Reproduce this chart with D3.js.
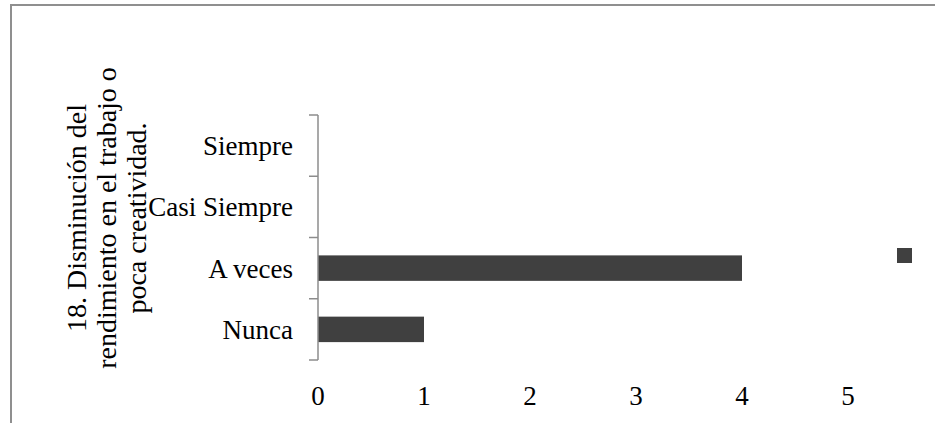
<!DOCTYPE html>
<html>
<head>
<meta charset="utf-8">
<script src="https://cdn.jsdelivr.net/npm/d3@7/dist/d3.min.js"></script>
<style>
  html, body { margin: 0; padding: 0; background: #fff; }
  svg { display: block; }
  text { font-family: "Liberation Serif", "DejaVu Serif", serif; fill: #000; }
</style>
</head>
<body>
<svg id="chart" width="935" height="423"></svg>
<script>
const categories = ["Siempre", "Casi Siempre", "A veces", "Nunca"];
const values = [0, 0, 4, 1];
const xTicks = [0, 1, 2, 3, 4, 5];
const titleLines = ["18. Disminución del", "rendimiento en el trabajo o", "poca creatividad."];
const seriesName = "";

const svg = d3.select("#chart");
const barColor = "#404040";
const axisColor = "#8c8c8c";

// outer border
svg.append("rect")
  .attr("x", 11).attr("y", 5)
  .attr("width", 960).attr("height", 460)
  .attr("fill", "none")
  .attr("stroke", "#8f8f8f")
  .attr("stroke-width", 2);

const x = d3.scaleLinear().domain([0, 5]).range([318, 848]);
const y = d3.scaleBand().domain(categories).range([115, 360])
  .paddingInner(0.584).paddingOuter(0.292);
const step = y.step();

// bars
svg.append("g").selectAll("rect")
  .data(categories.map((c, i) => ({ c, v: values[i] })))
  .join("rect")
  .attr("x", x(0))
  .attr("y", d => y(d.c))
  .attr("width", d => x(d.v) - x(0))
  .attr("height", y.bandwidth())
  .attr("fill", barColor);

// y axis line and boundary ticks
const yTop = 115, yBottom = 360;
svg.append("line")
  .attr("x1", x(0)).attr("x2", x(0))
  .attr("y1", yTop).attr("y2", yBottom)
  .attr("stroke", axisColor).attr("stroke-width", 1.5);
const bounds = d3.range(categories.length + 1).map(i => yTop + i * step);
svg.append("g").selectAll("line")
  .data(bounds)
  .join("line")
  .attr("x1", x(0) - 9).attr("x2", x(0))
  .attr("y1", d => d).attr("y2", d => d)
  .attr("stroke", axisColor).attr("stroke-width", 1.5);

// category labels
svg.append("g").selectAll("text")
  .data(categories)
  .join("text")
  .attr("x", x(0) - 25)
  .attr("y", d => y(d) + y.bandwidth() / 2)
  .attr("dy", "0.35em")
  .attr("text-anchor", "end")
  .attr("font-size", 27)
  .text(d => d);

// x tick labels
svg.append("g").selectAll("text")
  .data(xTicks)
  .join("text")
  .attr("x", d => x(d))
  .attr("y", 405)
  .attr("text-anchor", "middle")
  .attr("font-size", 27)
  .text(d => d);

// rotated axis title
const tg = svg.append("g").attr("transform", "translate(0,218) rotate(-90)");
tg.selectAll("text")
  .data(titleLines)
  .join("text")
  .attr("x", 0)
  .attr("y", (d, i) => 86 + i * 30)
  .attr("text-anchor", "middle")
  .attr("font-size", 28)
  .text(d => d);

// legend
svg.append("rect")
  .attr("x", 897).attr("y", 248)
  .attr("width", 15).attr("height", 15)
  .attr("fill", barColor);
svg.append("text").attr("x", 918).attr("y", 260).attr("font-size", 20).text(seriesName);
</script>
</body>
</html>
